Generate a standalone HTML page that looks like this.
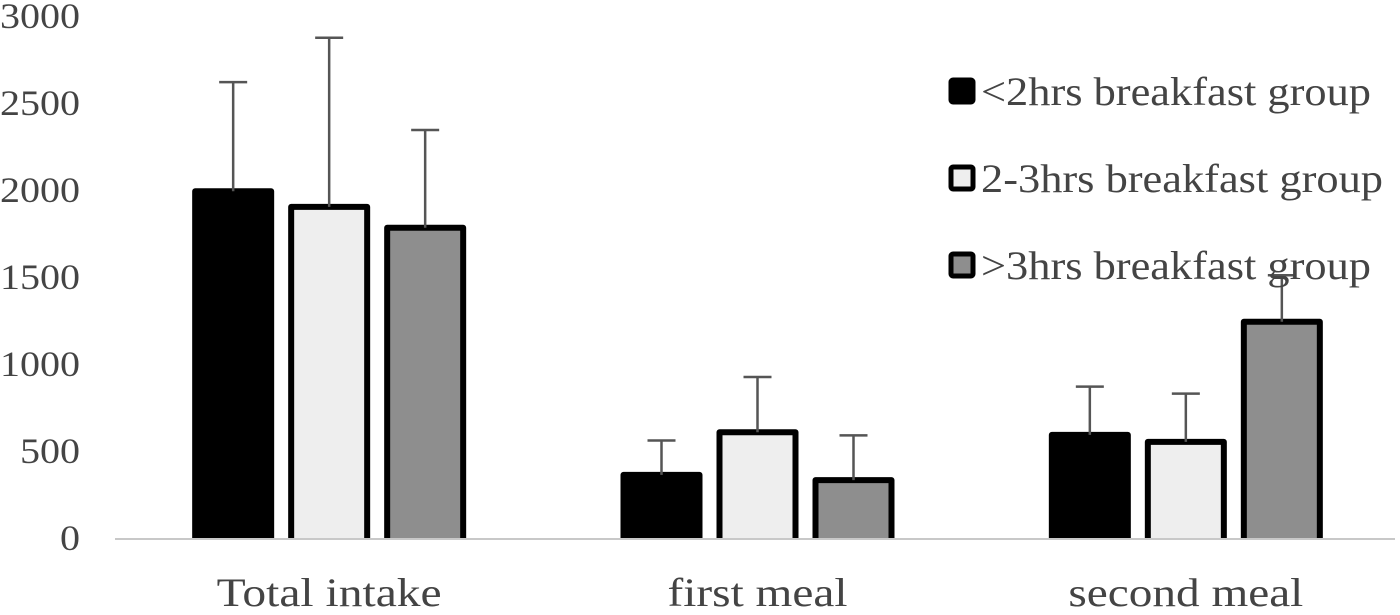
<!DOCTYPE html>
<html><head><meta charset="utf-8"><style>
html,body{margin:0;padding:0;background:#fff;}
svg{display:block;font-family:"Liberation Serif",serif;}
</style></head><body>
<svg id="chart" width="1400" height="615" xmlns="http://www.w3.org/2000/svg"></svg>
<script>
const categories = ["Total intake","first meal","second meal"];
const seriesNames = ["<2hrs breakfast group","2-3hrs breakfast group",">3hrs breakfast group"];
const meanLt2 = [2010, 380, 610];
const mean2to3 = [1920, 625, 570];
const meanGt3 = [1800, 350, 1260];
const errTopLt2 = [2620, 560, 870];
const errTop2to3 = [2875, 925, 830];
const errTopGt3 = [2345, 590, 1510];
const yTicks = [0,500,1000,1500,2000,2500,3000];

const means=[meanLt2,mean2to3,meanGt3], errs=[errTopLt2,errTop2to3,errTopGt3];
const fills=["#000","#eeeeee","#8e8e8e"];
const svg=document.getElementById('chart');
const NS="http://www.w3.org/2000/svg";
const x0=115,x1=1400,yBase=538,yTop=16,yMax=3000;
const y=v=>yBase-(v/yMax)*(yBase-yTop);
const bandW=(x1-x0)/categories.length;
const xc=i=>x0+bandW*(i+0.5);
const bw=82,step=96;
function mk(t,a){const e=document.createElementNS(NS,t);for(const k in a)e.setAttribute(k,a[k]);svg.appendChild(e);return e;}
yTicks.forEach(t=>{const s=String(t);const e=mk('text',{x:80,y:y(t)+12,'text-anchor':'end','font-size':36,fill:'#444',textLength:s.length*20,lengthAdjust:'spacingAndGlyphs'});e.textContent=s;

});
const ax=mk('line',{x1:x0,x2:1395,y1:yBase+1,y2:yBase+1,stroke:'#c8c8c8','stroke-width':2});


const catLen=[225,180,235];
categories.forEach((c,i)=>{
  const e=mk('text',{x:xc(i),y:606,'text-anchor':'middle','font-size':40,fill:'#444',textLength:catLen[i],lengthAdjust:'spacingAndGlyphs'});e.textContent=c;
  
  
  for(let s=0;s<3;s++){
    const cx=xc(i)+(s-1)*step, top=y(means[s][i]);
    const r=mk('path',{d:`M${cx-bw/2+3},${yBase} V${top+3} H${cx+bw/2-3} V${yBase}`,fill:fills[s],stroke:'#000','stroke-width':6,'stroke-linejoin':'round'});
    
    
    const et=y(errs[s][i]);
    const l=mk('path',{d:`M${cx},${top+3} V${et} M${cx-14},${et} H${cx+14}`,stroke:'#555','stroke-width':2.5,fill:'none'});
    
    
  }
});
const ly=[91,178,265];
const legLen=[390,402,390];
seriesNames.forEach((n,s)=>{
  const r=mk('rect',{x:951,y:ly[s]-11,width:22,height:22,rx:2,fill:fills[s],stroke:'#000','stroke-width':5});
  
  
  const t=mk('text',{x:981,y:ly[s]+14,'font-size':40,fill:'#444',textLength:legLen[s],lengthAdjust:'spacingAndGlyphs'});t.textContent=n;
  
  
});
</script>
</body></html>
